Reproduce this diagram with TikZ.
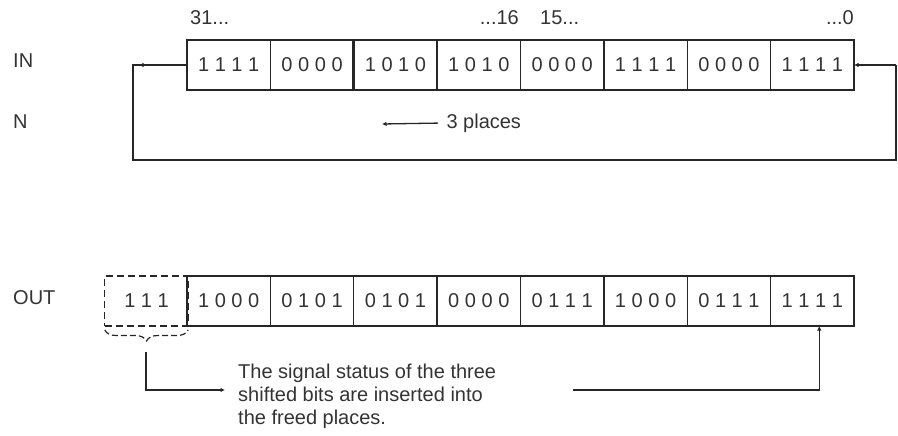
\documentclass[tikz,border=0pt]{standalone}
\usepackage{fontspec}
\setmainfont{Liberation Sans}
\usetikzlibrary{positioning,arrows.meta,decorations.pathreplacing}
\tikzset{
    bitcell/.style={
        draw, minimum width=83.375pt, minimum height=50pt,
        inner sep=0pt, outer sep=0pt, line width=1.3pt
    },
    freecell/.style={
        bitcell, dash pattern=on 7pt off 4pt
    },
    rowlabel/.style={
        anchor=west, inner sep=0pt
    },
    flowline/.style={
        line width=1.3pt, -{Latex[length=4.5pt,width=4.5pt]}
    }
}

\begin{document}
\begin{tikzpicture}[x=1pt, y=-1pt, font=\fontsize{20}{23}\selectfont,
    every node/.append style={text=black!80}, draw=black!85]
    \useasboundingbox (0,0) rectangle (898,436);

    \node[rowlabel] (lin) at (13,61) {IN};
    \node[rowlabel] (ln) at (13,122) {N};
    \node[rowlabel] (lout) at (13,298) {OUT};

    % input word
    \foreach \bits [count=\i] in {1 1 1 1,0 0 0 0,1 0 1 0,1 0 1 0,0 0 0 0,1 1 1 1,0 0 0 0,1 1 1 1}
        \node[bitcell] (in\i) at ({187+(\i-0.5)*83.375},65) {\bits};
    \draw[line width=2.6pt] (in2.north east) -- (in2.south east);

    \node[anchor=base west, inner sep=0pt] (b31) at (190,25) {31...};
    \node[anchor=base east, inner sep=0pt] (b16) at (519,25) {...16};
    \node[anchor=base west, inner sep=0pt] (b15) at (540,25) {15...};
    \node[anchor=base east, inner sep=0pt] (b0) at (854,25) {...0};

    % rotate loop
    \coordinate (ldot) at (139,65);
    \coordinate (lbot) at (133,160);
    \coordinate (rtop) at (896,65);
    \draw[line width=1.3pt] (in1.west) -| (lbot) -| (rtop);
    \draw[flowline] (rtop) -- (in8.east);
    \draw[flowline] (in1.west) -- (ldot);

    \node[anchor=west] (shift) at (443,123) {3 places};
    \coordinate (shiftend) at (382,124);
    \draw[flowline, shorten <=5pt] (shift.west) -- (shiftend);

    % output word
    \node[freecell] (out0) at (146.5,301) {1 1 1};
    \foreach \bits [count=\i] in {1 0 0 0,0 1 0 1,0 1 0 1,0 0 0 0,0 1 1 1,1 0 0 0,0 1 1 1,1 1 1 1}
        \node[bitcell] (out\i) at ({187+(\i-0.5)*83.375},301) {\bits};

    \draw[decorate, decoration={brace, mirror, amplitude=11pt},
        line width=1.2pt, dash pattern=on 6pt off 3pt]
        ([yshift=-4pt]out0.south west) -- ([yshift=-4pt]out0.south east);

    \node[anchor=west, align=left, inner sep=0pt] (note) at (238,396)
        {The signal status of the three\\shifted bits are inserted into\\the freed places.};
    \coordinate (bracetip) at (146,352);
    \coordinate (noteleft) at (225,390);
    \coordinate (noteright) at (573,390);
    \draw[flowline] (bracetip) |- (noteleft);
    \draw[flowline] (noteright) -| ([xshift=7pt]out8.south);
\end{tikzpicture}
\end{document}
